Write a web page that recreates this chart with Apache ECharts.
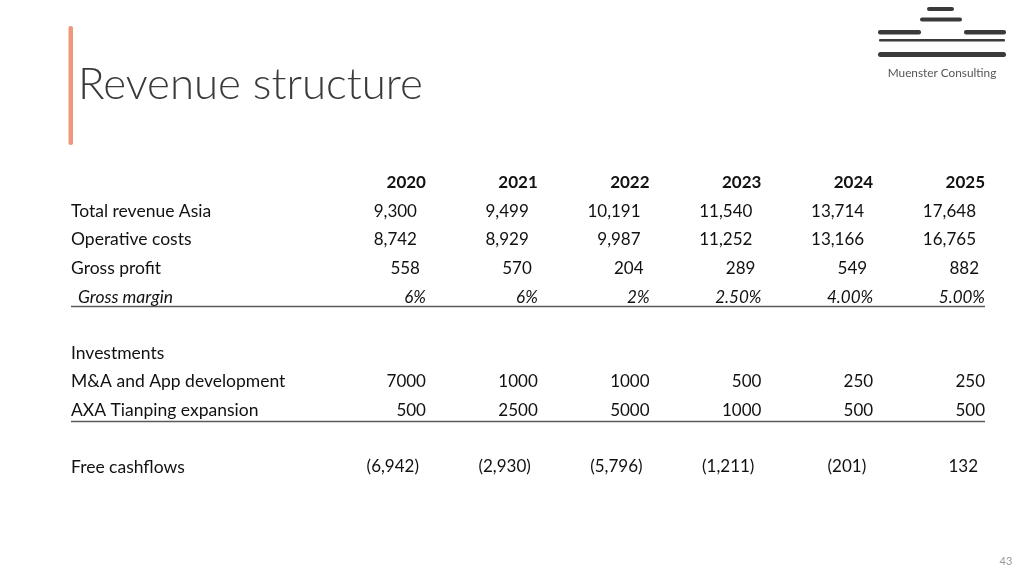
<!DOCTYPE html>
<html><head><meta charset="utf-8">
<script src="https://cdn.jsdelivr.net/npm/echarts@6/dist/echarts.min.js"></script>
<style>html,body{margin:0;padding:0;background:#fff}#c{width:1024px;height:576px}</style>
</head><body><div id="c"></div>
<script>
// ---- data ----
const years = ['2020', '2021', '2022', '2023', '2024', '2025'];
const rowLabels = ['Total revenue Asia', 'Operative costs', 'Gross profit', 'Gross margin',
  'Investments', 'M&A and App development', 'AXA Tianping expansion', 'Free cashflows'];
const totalRevenueAsia = [9300, 9499, 10191, 11540, 13714, 17648];
const operativeCosts = [8742, 8929, 9987, 11252, 13166, 16765];
const grossProfit = [558, 570, 204, 289, 549, 882];
const grossMargin = [0.06, 0.06, 0.02, 0.025, 0.04, 0.05];
const grossMarginDecimals = [0, 0, 0, 2, 2, 2];
const maAppDevelopment = [7000, 1000, 1000, 500, 250, 250];
const axaTianpingExpansion = [500, 2500, 5000, 1000, 500, 500];
const freeCashflows = [-6942, -2930, -5796, -1211, -201, 132];

// ---- formatting ----
const thousands = v => v.toLocaleString('en-US');
const plain = v => String(v);
const pct = (v, i) => (v * 100).toFixed(grossMarginDecimals[i]) + '%';
const cash = v => v < 0 ? '(' + Math.abs(v).toLocaleString('en-US') + ')' : v.toLocaleString('en-US');

const FONT = 'Lato, "Open Sans", sans-serif';
const X_MIN = -3.175;   // label column position on the column scale
const rows = [
  { row: 0, label: null, values: years, fmt: v => v, dx: 0, weight: 'bold' },
  { row: 1, label: rowLabels[0], values: totalRevenueAsia, fmt: thousands, dx: -9 },
  { row: 2, label: rowLabels[1], values: operativeCosts, fmt: thousands, dx: -9 },
  { row: 3, label: rowLabels[2], values: grossProfit, fmt: thousands, dx: -6 },
  { row: 4, label: rowLabels[3], values: grossMargin, fmt: pct, dx: 0, italic: true, indent: 7 },
  { row: 6, label: rowLabels[4], values: null },
  { row: 7, label: rowLabels[5], values: maAppDevelopment, fmt: plain, dx: 0 },
  { row: 8, label: rowLabels[6], values: axaTianpingExpansion, fmt: plain, dx: 0 },
  { row: 10, label: rowLabels[7], values: freeCashflows, fmt: cash, dx: -7 }
];
const rules = [{ row: 4, dy: 9.5 }, { row: 8, dy: 11 }];

const cells = [];
rows.forEach(r => {
  if (r.label) cells.push({ col: X_MIN, row: r.row, text: r.label, align: 'left', dx: r.indent || 0,
    italic: r.italic, weight: 'normal', size: 17.5, dy: r.italic ? 1 : 0 });
  if (r.values) r.values.forEach((v, i) => cells.push({ col: i, row: r.row, text: r.fmt(v, i),
    align: 'right', dx: r.dx, italic: r.italic, weight: r.weight || 'normal', size: 17, dy: r.italic ? 1 : 0 }));
});

const chart = echarts.init(document.getElementById('c'), null, { renderer: 'canvas' });
chart.setOption({
  backgroundColor: '#ffffff',
  animation: false,
  grid: { left: 71, right: 39, top: 183, bottom: 109 },
  xAxis: { type: 'value', min: X_MIN, max: 5, show: false },
  yAxis: { type: 'value', min: 0, max: 10, inverse: true, show: false },
  graphic: [
    { type: 'rect', shape: { x: 68.5, y: 26, width: 4.5, height: 119, r: 2 }, style: { fill: '#EE987D' } },
    { type: 'text', x: 78, y: 85, style: { text: 'Revenue structure', fontSize: 43.8, fontFamily: FONT,
      fontWeight: 300, fill: '#3a3a3a', verticalAlign: 'middle' } },
    // logo
    { type: 'rect', shape: { x: 927, y: 7, width: 27, height: 4, r: 2 }, style: { fill: '#3a3a3a' } },
    { type: 'rect', shape: { x: 920, y: 17.5, width: 42, height: 4, r: 2 }, style: { fill: '#3a3a3a' } },
    { type: 'rect', shape: { x: 878, y: 30, width: 43, height: 4.5, r: 2 }, style: { fill: '#3a3a3a' } },
    { type: 'rect', shape: { x: 964, y: 30, width: 42, height: 4.5, r: 2 }, style: { fill: '#3a3a3a' } },
    { type: 'rect', shape: { x: 879, y: 39, width: 126, height: 2.5, r: 1 }, style: { fill: '#3a3a3a' } },
    { type: 'rect', shape: { x: 878, y: 52, width: 128, height: 5, r: 2.5 }, style: { fill: '#3a3a3a' } },
    { type: 'text', x: 942, y: 73.5, style: { text: 'Muenster Consulting', fontSize: 11.8, fontFamily: FONT,
      fill: '#555555', align: 'center', verticalAlign: 'middle' } },
    { type: 'text', x: 1006, y: 561, style: { text: '43', fontSize: 11, fontFamily: FONT,
      fill: '#999999', align: 'center', verticalAlign: 'middle' } }
  ],
  series: [
    {
      type: 'custom', clip: false, silent: true,
      data: cells.map((c, i) => [c.col, c.row, i]),
      renderItem: function (params, api) {
        const c = cells[api.value(2)];
        const p = api.coord([api.value(0), api.value(1)]);
        return {
          type: 'text', x: p[0] + c.dx, y: p[1] + c.dy,
          style: { text: c.text, align: c.align, verticalAlign: 'middle', fontSize: c.size,
            fontFamily: FONT, fontWeight: c.weight, fontStyle: c.italic ? 'italic' : 'normal', fill: '#111111' }
        };
      }
    },
    {
      type: 'custom', clip: false, silent: true,
      data: rules.map((r, i) => [r.row, i]),
      renderItem: function (params, api) {
        const r = rules[api.value(1)];
        const a = api.coord([X_MIN, api.value(0)]);
        const b = api.coord([5, api.value(0)]);
        const y = Math.round(a[1] + r.dy) + 0.5;
        return { type: 'line', shape: { x1: a[0], y1: y, x2: b[0], y2: y },
          style: { stroke: '#5a5a5a', lineWidth: 1.6 } };
      }
    }
  ]
});
</script></body></html>
